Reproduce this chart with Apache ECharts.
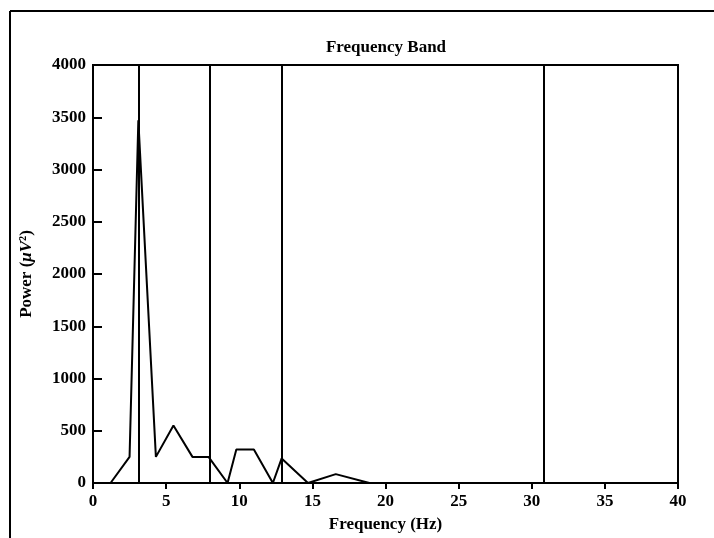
<!DOCTYPE html>
<html lang="en">
<head>
    <meta charset="UTF-8">
    <title>Frequency Band</title>
    <script src="https://cdn.jsdelivr.net/npm/echarts@6/dist/echarts.min.js"></script>
    <style>
        html, body { margin: 0; padding: 0; background: #fff; }
    </style>
</head>
<body>
<div id="main" style="width: 714px;height:538px;"></div>
</body>
<script type="text/javascript">

    // frequency (Hz) and power values
    var freq  = [1.2, 2.5, 3.1, 4.3, 5.5, 6.8, 7.9, 9.2, 9.8, 11.0, 12.3, 12.9, 14.7, 16.6, 18.9, 40];
    var power = [0, 250, 3470, 250, 550, 250, 250, 0, 320, 320, 0, 235, 0, 85, 0, 0];
    // band boundaries (vertical lines)
    var bands = [3.1, 8.0, 12.9, 30.8];

    var font = 'Liberation Serif';

    var pts = [];
    for (var i = 0; i < freq.length; i++) {
        pts.push([freq[i], power[i]]);
    }

    var myChart = echarts.init(document.getElementById('main'));
    option = {
        animation: false,
        title: {
            text: 'Frequency Band',
            left: 381,
            textAlign: 'center',
            top: 34,
            textStyle: {fontFamily: font, fontWeight: 'bold', fontSize: 17, color: '#000'}
        },
        grid: {
            left: 93, right: 36, top: 65, bottom: 51,
            show: true, borderColor: '#000', borderWidth: 2
        },
        xAxis: {
            type: 'value',
            min: 0, max: 40, interval: 5,
            name: 'Frequency (Hz)',
            nameLocation: 'middle',
            nameGap: 33,
            nameTextStyle: {fontFamily: font, fontWeight: 'bold', fontSize: 17, color: '#000'},
            axisLine: {lineStyle: {color: '#000', width: 2}},
            axisTick: {length: 6, lineStyle: {color: '#000', width: 2}},
            axisLabel: {fontFamily: font, fontWeight: 'bold', fontSize: 17, color: '#000', margin: 10},
            splitLine: {show: false}
        },
        yAxis: {
            type: 'value',
            min: 0, max: 4000, interval: 500,
            name: '{n|Power (}{i|\u03bcV}{n|\u00b2)}',
            nameLocation: 'middle',
            nameGap: 58,
            nameTextStyle: {
                rich: {
                    n: {fontFamily: font, fontWeight: 'bold', fontSize: 17, color: '#000'},
                    i: {fontFamily: font, fontWeight: 'bold', fontStyle: 'italic', fontSize: 17, color: '#000'}
                }
            },
            axisLine: {show: true, lineStyle: {color: '#000', width: 2}},
            axisTick: {show: true, inside: true, length: 9, lineStyle: {color: '#000', width: 2}},
            axisLabel: {
                fontFamily: font, fontWeight: 'bold', fontSize: 17, color: '#000', margin: 7,
                formatter: function (v) { return String(v); }
            },
            splitLine: {show: false}
        },
        series: [
            {
                name: 'Power',
                type: 'line',
                data: pts,
                symbol: 'none',
                lineStyle: {color: '#000', width: 2},
                markLine: {
                    silent: true,
                    symbol: ['none', 'none'],
                    label: {show: false},
                    lineStyle: {color: '#000', width: 2, type: 'solid'},
                    data: bands.map(function (b) { return {xAxis: b}; })
                }
            }
        ],
        graphic: [
            {type: 'line', shape: {x1: 10, y1: 11, x2: 10, y2: 538}, style: {stroke: '#000', lineWidth: 2}},
            {type: 'line', shape: {x1: 10, y1: 11, x2: 714, y2: 11}, style: {stroke: '#000', lineWidth: 2}}
        ]
    };
    myChart.setOption(option);

</script>
</html>
